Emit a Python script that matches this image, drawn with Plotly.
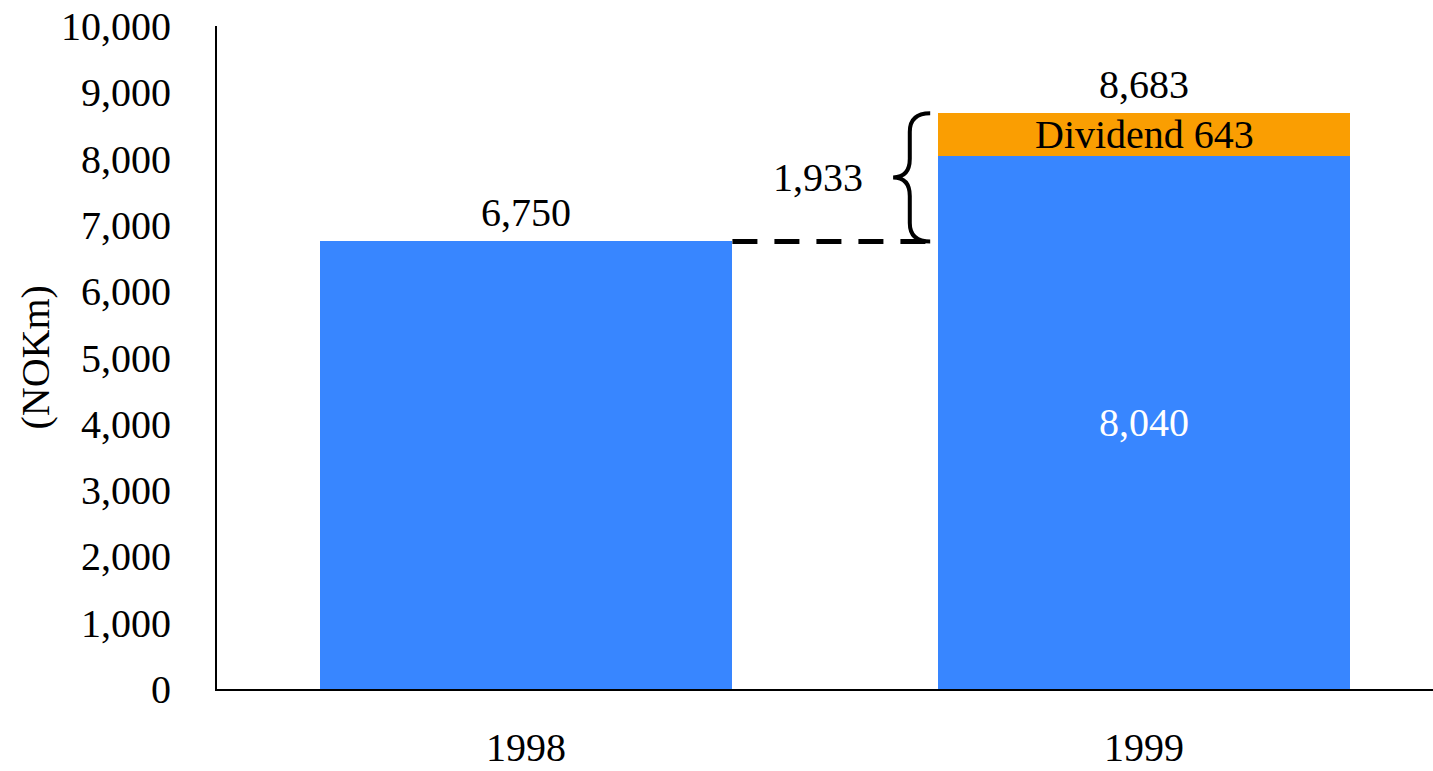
import plotly.graph_objects as go

years = ["1998", "1999"]
base_values = [6750, 8040]
dividend_values = [0, 643]
totals = [6750, 8683]
increase = 1933
y_ticks = [0, 1000, 2000, 3000, 4000, 5000, 6000, 7000, 8000, 9000, 10000]

BLUE = "#3886FF"
ORANGE = "#FA9E02"
FONT = "Liberation Serif"
FS = 40
W = 0.668
xpos = [0, 1]

fig = go.Figure()
fig.add_trace(go.Bar(
    x=xpos, y=base_values, width=W, marker=dict(color=BLUE, line=dict(width=0)),
    hoverinfo="skip", showlegend=False,
))
fig.add_trace(go.Bar(
    x=xpos, y=dividend_values, width=W, marker=dict(color=ORANGE, line=dict(width=0)),
    hoverinfo="skip", showlegend=False,
))

# value labels
fig.add_annotation(x=1, y=base_values[1] / 2, text=f"{base_values[1]:,}", showarrow=False,
                   font=dict(size=FS, family=FONT, color="white"))
fig.add_annotation(x=1, y=base_values[1] + dividend_values[1] / 2,
                   text=f"Dividend {dividend_values[1]}", showarrow=False,
                   font=dict(size=FS, family=FONT, color="black"))
fig.add_annotation(x=0, y=totals[0], text=f"{totals[0]:,}", showarrow=False, yanchor="bottom",
                   yshift=4, font=dict(size=FS, family=FONT, color="black"))
fig.add_annotation(x=1, y=totals[1], text=f"{totals[1]:,}", showarrow=False, yanchor="bottom",
                   yshift=4, font=dict(size=FS, family=FONT, color="black"))

# dashed connector
x_left = xpos[0] + W / 2
x_brace_r = xpos[1] - W / 2 - 0.012
fig.add_shape(type="line", x0=x_left, x1=x_brace_r + 0.002, y0=totals[0], y1=totals[0],
              line=dict(color="black", width=5, dash="25px,17px"))

# brace
yt, yb = totals[1], totals[0]
ym = (yt + yb) / 2
d = 280
xm = x_brace_r - 0.033
xt = xm - 0.027
path = (f"M {x_brace_r},{yt} Q {xm},{yt} {xm},{yt-d} L {xm},{ym+d} "
        f"Q {xm},{ym} {xt},{ym} Q {xm},{ym} {xm},{ym-d} L {xm},{yb+d} "
        f"Q {xm},{yb} {x_brace_r},{yb}")
fig.add_shape(type="path", path=path, line=dict(color="black", width=4))
fig.add_annotation(x=xt - 0.045, y=ym, text=f"{increase:,}", showarrow=False, xanchor="right",
                   font=dict(size=FS, family=FONT, color="black"))

fig.add_annotation(xref="paper", yref="paper", x=0, y=0.5, xshift=-182, text="(NOKm)",
                   xanchor="center", yanchor="middle",
                   textangle=-90, showarrow=False, font=dict(size=FS, family=FONT, color="black"))

fig.update_layout(
    barmode="stack", width=1433, height=771,
    margin=dict(l=217, r=0, t=26, b=82),
    plot_bgcolor="white", paper_bgcolor="white",
    font=dict(family=FONT, size=FS, color="black"),
    xaxis=dict(range=[-0.5, 1.4676], tickvals=xpos, ticktext=years, showgrid=False,
               showline=True, linecolor="black", linewidth=2, ticks="", zeroline=False,
               ticklabelstandoff=22, automargin=False, tickfont=dict(size=FS, family=FONT)),
    yaxis=dict(range=[0, 10000], tickvals=y_ticks, tickformat=",d", showgrid=False,
               showline=True, linecolor="black", linewidth=2, ticks="", zeroline=False,
               ticklabelstandoff=36, automargin=False, tickfont=dict(size=FS, family=FONT)),
)
fig.write_html("out.html")
